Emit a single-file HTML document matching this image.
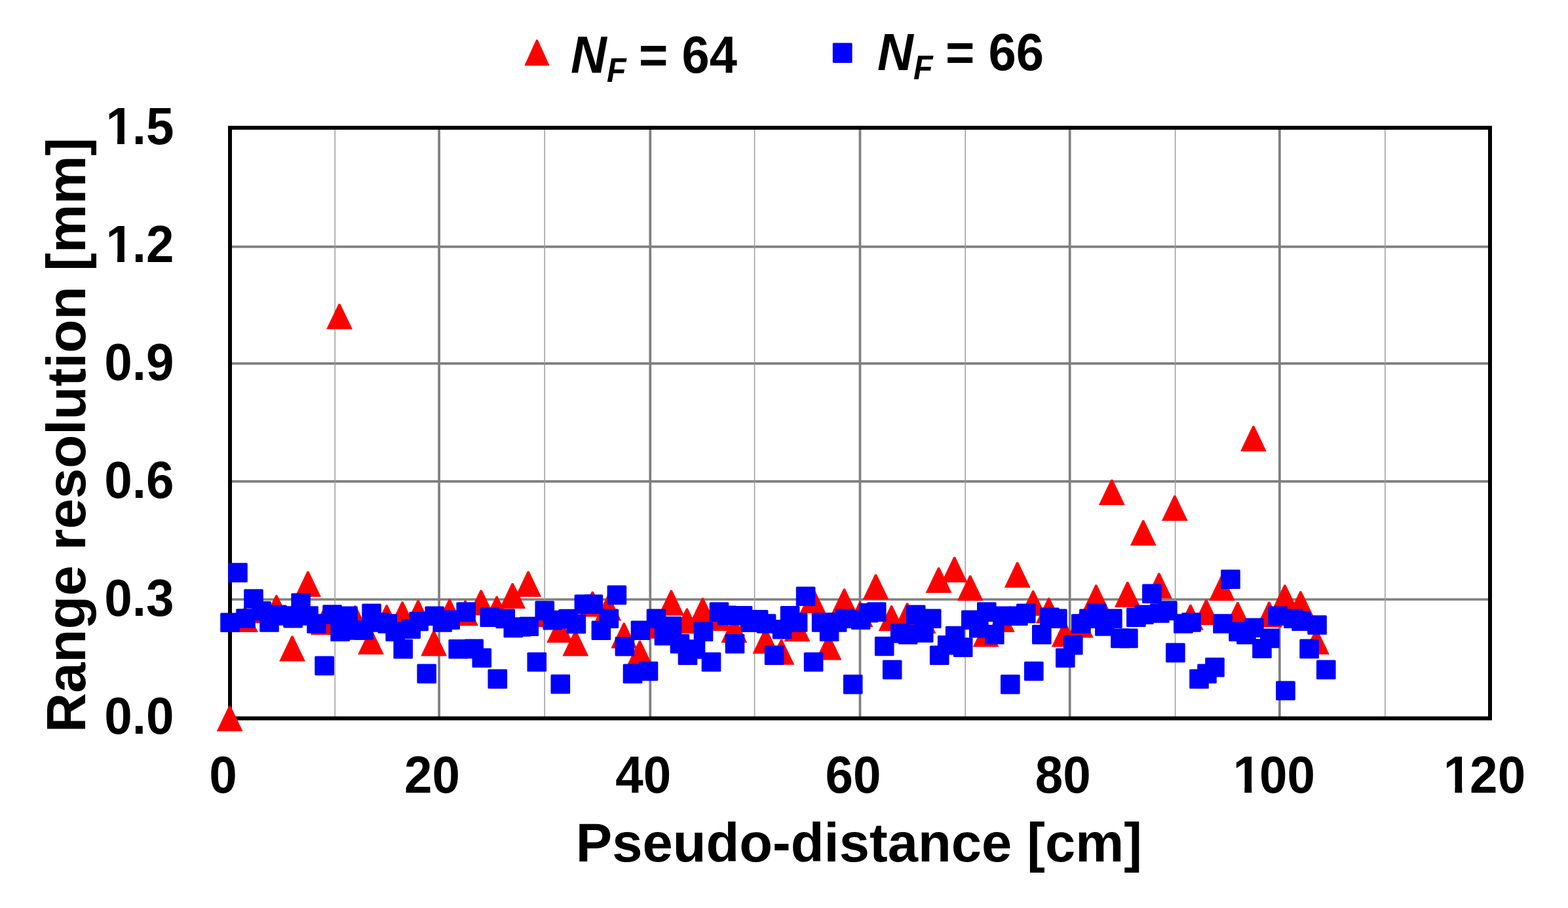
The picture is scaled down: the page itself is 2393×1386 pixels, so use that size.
<!DOCTYPE html>
<html lang="en">
<head>
<meta charset="utf-8">
<title>Range resolution vs pseudo-distance</title>
<style>
html,body{margin:0;padding:0;background:#fff;}
body{width:2393px;height:1386px;overflow:hidden;}
svg{display:block;}
text{font-family:"Liberation Sans",sans-serif;font-weight:bold;fill:#000;}
.tk{font-size:80.5px;}
.ax{font-size:84px;}
.lg{font-size:80px;}
.it{font-style:italic;}
</style>
</head>
<body>
<svg width="2393" height="1386" viewBox="0 0 2393 1386">
<rect x="0" y="0" width="2393" height="1386" fill="#ffffff"/>
<g id="grid">
<line x1="670.1" y1="198" x2="670.1" y2="1094" stroke="#7f7f7f" stroke-width="3.7"/>
<line x1="992.3" y1="198" x2="992.3" y2="1094" stroke="#7f7f7f" stroke-width="3.7"/>
<line x1="1312.5" y1="198" x2="1312.5" y2="1094" stroke="#7f7f7f" stroke-width="3.7"/>
<line x1="1632.7" y1="198" x2="1632.7" y2="1094" stroke="#7f7f7f" stroke-width="3.7"/>
<line x1="1952.9" y1="198" x2="1952.9" y2="1094" stroke="#7f7f7f" stroke-width="3.7"/>
<line x1="354" y1="376.6" x2="2271" y2="376.6" stroke="#7f7f7f" stroke-width="3.7"/>
<line x1="354" y1="554.9" x2="2271" y2="554.9" stroke="#7f7f7f" stroke-width="3.7"/>
<line x1="354" y1="734.9" x2="2271" y2="734.9" stroke="#7f7f7f" stroke-width="3.7"/>
<line x1="354" y1="915" x2="2271" y2="915" stroke="#7f7f7f" stroke-width="3.7"/>
<line x1="511.2" y1="198" x2="511.2" y2="1094" stroke="#9c9c9c" stroke-width="1.5"/>
<line x1="831.2" y1="198" x2="831.2" y2="1094" stroke="#9c9c9c" stroke-width="1.5"/>
<line x1="1151.6" y1="198" x2="1151.6" y2="1094" stroke="#9c9c9c" stroke-width="1.5"/>
<line x1="1473.2" y1="198" x2="1473.2" y2="1094" stroke="#9c9c9c" stroke-width="1.5"/>
<line x1="1793.6" y1="198" x2="1793.6" y2="1094" stroke="#9c9c9c" stroke-width="1.5"/>
<line x1="2113.9" y1="198" x2="2113.9" y2="1094" stroke="#9c9c9c" stroke-width="1.5"/>
</g>
<rect id="frame" x="351" y="195" width="1923" height="901.5" fill="none" stroke="#000" stroke-width="6"/>
<g id="series-nf64" fill="#ff0000">
<polygon points="330.7,1116.3 349.3,1077.4 351.9,1077.4 370.5,1116.3"/>
<polygon points="354,965 372.6,926.1 375.2,926.1 393.8,965"/>
<polygon points="378,951.2 396.6,912.3 399.2,912.3 417.8,951.2"/>
<polygon points="402,947.1 420.6,908.2 423.2,908.2 441.8,947.1"/>
<polygon points="426.1,1009.4 444.7,970.5 447.3,970.5 465.9,1009.4"/>
<polygon points="450.1,911 468.7,872.1 471.3,872.1 489.9,911"/>
<polygon points="474.1,968.9 492.7,930 495.3,930 513.9,968.9"/>
<polygon points="498.1,502.6 516.7,463.7 519.3,463.7 537.9,502.6"/>
<polygon points="522.1,963.1 540.7,924.2 543.3,924.2 561.9,963.1"/>
<polygon points="546.1,999.1 564.7,960.2 567.3,960.2 585.9,999.1"/>
<polygon points="570.2,962.1 588.8,923.2 591.4,923.2 610,962.1"/>
<polygon points="594.2,957.2 612.8,918.3 615.4,918.3 634,957.2"/>
<polygon points="618.2,955 636.8,916.1 639.4,916.1 658,955"/>
<polygon points="642.2,1001.4 660.8,962.5 663.4,962.5 682,1001.4"/>
<polygon points="666.2,953.3 684.8,914.4 687.4,914.4 706,953.3"/>
<polygon points="690.2,955.3 708.8,916.4 711.4,916.4 730,955.3"/>
<polygon points="714.3,939.3 732.9,900.4 735.5,900.4 754.1,939.3"/>
<polygon points="738.3,949 756.9,910.1 759.5,910.1 778.1,949"/>
<polygon points="762.3,929 780.9,890.1 783.5,890.1 802.1,929"/>
<polygon points="786.3,911 804.9,872.1 807.5,872.1 826.1,911"/>
<polygon points="810.3,957.2 828.9,918.3 831.5,918.3 850.1,957.2"/>
<polygon points="834.3,981 852.9,942.1 855.5,942.1 874.1,981"/>
<polygon points="858.4,1001.4 877,962.5 879.6,962.5 898.2,1001.4"/>
<polygon points="884.4,941.6 903,902.7 905.6,902.7 924.2,941.6"/>
<polygon points="908.4,947.5 927,908.6 929.6,908.6 948.2,947.5"/>
<polygon points="932.4,989.4 951,950.5 953.6,950.5 972.2,989.4"/>
<polygon points="956.5,1016.6 975.1,977.7 977.7,977.7 996.3,1016.6"/>
<polygon points="980.5,974.8 999.1,935.9 1001.7,935.9 1020.3,974.8"/>
<polygon points="1004.5,939.7 1023.1,900.8 1025.7,900.8 1044.3,939.7"/>
<polygon points="1028.5,967.3 1047.1,928.4 1049.7,928.4 1068.3,967.3"/>
<polygon points="1052.5,951.4 1071.1,912.5 1073.7,912.5 1092.3,951.4"/>
<polygon points="1076.5,963.1 1095.1,924.2 1097.7,924.2 1116.3,963.1"/>
<polygon points="1100.5,981 1119.1,942.1 1121.7,942.1 1140.3,981"/>
<polygon points="1124.6,964.8 1143.2,925.9 1145.8,925.9 1164.4,964.8"/>
<polygon points="1148.6,997.7 1167.2,958.8 1169.8,958.8 1188.4,997.7"/>
<polygon points="1172.6,1014.8 1191.2,975.9 1193.8,975.9 1212.4,1014.8"/>
<polygon points="1196.6,979.2 1215.2,940.3 1217.8,940.3 1236.4,979.2"/>
<polygon points="1220.6,936 1239.2,897.1 1241.8,897.1 1260.4,936"/>
<polygon points="1244.6,1007.5 1263.2,968.6 1265.8,968.6 1284.4,1007.5"/>
<polygon points="1268.6,937.3 1287.2,898.4 1289.8,898.4 1308.4,937.3"/>
<polygon points="1292.7,957.2 1311.3,918.3 1313.9,918.3 1332.5,957.2"/>
<polygon points="1316.7,915.3 1335.3,876.4 1337.9,876.4 1356.5,915.3"/>
<polygon points="1340.7,963.2 1359.3,924.3 1361.9,924.3 1380.5,963.2"/>
<polygon points="1364.7,959.2 1383.3,920.3 1385.9,920.3 1404.5,959.2"/>
<polygon points="1388.7,966.9 1407.3,928 1409.9,928 1428.5,966.9"/>
<polygon points="1412.7,905 1431.3,866.1 1433.9,866.1 1452.5,905"/>
<polygon points="1436.7,889 1455.3,850.1 1457.9,850.1 1476.5,889"/>
<polygon points="1460.8,917.1 1479.4,878.2 1482,878.2 1500.6,917.1"/>
<polygon points="1484.8,987.4 1503.4,948.5 1506,948.5 1524.6,987.4"/>
<polygon points="1508.8,965 1527.4,926.1 1530,926.1 1548.6,965"/>
<polygon points="1532.8,897 1551.4,858.1 1554,858.1 1572.6,897"/>
<polygon points="1556.8,940.1 1575.4,901.2 1578,901.2 1596.6,940.1"/>
<polygon points="1580.8,951.4 1599.4,912.5 1602,912.5 1620.6,951.4"/>
<polygon points="1604.8,987.4 1623.4,948.5 1626,948.5 1644.6,987.4"/>
<polygon points="1628.9,973.4 1647.5,934.5 1650.1,934.5 1668.7,973.4"/>
<polygon points="1652.9,931.5 1671.5,892.6 1674.1,892.6 1692.7,931.5"/>
<polygon points="1676.9,770.9 1695.5,732 1698.1,732 1716.7,770.9"/>
<polygon points="1700.9,927 1719.5,888.1 1722.1,888.1 1740.7,927"/>
<polygon points="1724.9,832.8 1743.5,793.9 1746.1,793.9 1764.7,832.8"/>
<polygon points="1748.9,913.4 1767.5,874.5 1770.1,874.5 1788.7,913.4"/>
<polygon points="1772.9,795.1 1791.5,756.2 1794.1,756.2 1812.7,795.1"/>
<polygon points="1797,961.7 1815.6,922.8 1818.2,922.8 1836.8,961.7"/>
<polygon points="1821,953.9 1839.6,915 1842.2,915 1860.8,953.9"/>
<polygon points="1845,916.9 1863.6,878 1866.2,878 1884.8,916.9"/>
<polygon points="1869,957.8 1887.6,918.9 1890.2,918.9 1908.8,957.8"/>
<polygon points="1893,689 1911.6,650.1 1914.2,650.1 1932.8,689"/>
<polygon points="1917,957.4 1935.6,918.5 1938.2,918.5 1956.8,957.4"/>
<polygon points="1941,931.5 1959.6,892.6 1962.2,892.6 1980.8,931.5"/>
<polygon points="1965,941.2 1983.7,902.3 1986.2,902.3 2004.9,941.2"/>
<polygon points="1989.1,999.1 2007.7,960.2 2010.3,960.2 2028.9,999.1"/>
</g>
<g id="series-nf66" fill="#0000ff">
<rect x="336.2" y="935.5" width="29.6" height="29.6" rx="1.5"/>
<rect x="348.2" y="859.3" width="29.6" height="29.6" rx="1.5"/>
<rect x="360.2" y="929.2" width="29.6" height="29.6" rx="1.5"/>
<rect x="372.2" y="899.2" width="29.6" height="29.6" rx="1.5"/>
<rect x="384.2" y="917.7" width="29.6" height="29.6" rx="1.5"/>
<rect x="396.2" y="935.2" width="29.6" height="29.6" rx="1.5"/>
<rect x="408.2" y="923.6" width="29.6" height="29.6" rx="1.5"/>
<rect x="420.3" y="925.2" width="29.6" height="29.6" rx="1.5"/>
<rect x="432.3" y="929" width="29.6" height="29.6" rx="1.5"/>
<rect x="444.3" y="905.5" width="29.6" height="29.6" rx="1.5"/>
<rect x="456.3" y="925.2" width="29.6" height="29.6" rx="1.5"/>
<rect x="468.3" y="937.2" width="29.6" height="29.6" rx="1.5"/>
<rect x="480.3" y="1001.5" width="29.6" height="29.6" rx="1.5"/>
<rect x="492.3" y="923.2" width="29.6" height="29.6" rx="1.5"/>
<rect x="504.3" y="949.5" width="29.6" height="29.6" rx="1.5"/>
<rect x="516.3" y="925.5" width="29.6" height="29.6" rx="1.5"/>
<rect x="528.3" y="947.2" width="29.6" height="29.6" rx="1.5"/>
<rect x="540.3" y="947.2" width="29.6" height="29.6" rx="1.5"/>
<rect x="552.3" y="921.6" width="29.6" height="29.6" rx="1.5"/>
<rect x="564.4" y="935.2" width="29.6" height="29.6" rx="1.5"/>
<rect x="576.4" y="937.2" width="29.6" height="29.6" rx="1.5"/>
<rect x="588.4" y="949.5" width="29.6" height="29.6" rx="1.5"/>
<rect x="600.4" y="975.8" width="29.6" height="29.6" rx="1.5"/>
<rect x="612.4" y="945.4" width="29.6" height="29.6" rx="1.5"/>
<rect x="624.4" y="933.7" width="29.6" height="29.6" rx="1.5"/>
<rect x="636.4" y="1013.6" width="29.6" height="29.6" rx="1.5"/>
<rect x="648.4" y="925.5" width="29.6" height="29.6" rx="1.5"/>
<rect x="660.4" y="935.2" width="29.6" height="29.6" rx="1.5"/>
<rect x="672.4" y="931.4" width="29.6" height="29.6" rx="1.5"/>
<rect x="684.4" y="976" width="29.6" height="29.6" rx="1.5"/>
<rect x="696.4" y="919.3" width="29.6" height="29.6" rx="1.5"/>
<rect x="708.4" y="975.6" width="29.6" height="29.6" rx="1.5"/>
<rect x="720.5" y="989.4" width="29.6" height="29.6" rx="1.5"/>
<rect x="732.5" y="927.5" width="29.6" height="29.6" rx="1.5"/>
<rect x="744.5" y="1021.6" width="29.6" height="29.6" rx="1.5"/>
<rect x="756.5" y="929.6" width="29.6" height="29.6" rx="1.5"/>
<rect x="768.5" y="943.6" width="29.6" height="29.6" rx="1.5"/>
<rect x="780.5" y="942.2" width="29.6" height="29.6" rx="1.5"/>
<rect x="792.5" y="941.5" width="29.6" height="29.6" rx="1.5"/>
<rect x="804.5" y="995.7" width="29.6" height="29.6" rx="1.5"/>
<rect x="816.5" y="917.3" width="29.6" height="29.6" rx="1.5"/>
<rect x="828.5" y="931.8" width="29.6" height="29.6" rx="1.5"/>
<rect x="840.5" y="1029.4" width="29.6" height="29.6" rx="1.5"/>
<rect x="852.5" y="929.8" width="29.6" height="29.6" rx="1.5"/>
<rect x="864.6" y="937.6" width="29.6" height="29.6" rx="1.5"/>
<rect x="876.6" y="907.4" width="29.6" height="29.6" rx="1.5"/>
<rect x="890.6" y="907.4" width="29.6" height="29.6" rx="1.5"/>
<rect x="902.6" y="947.5" width="29.6" height="29.6" rx="1.5"/>
<rect x="914.6" y="929.4" width="29.6" height="29.6" rx="1.5"/>
<rect x="926.6" y="893.4" width="29.6" height="29.6" rx="1.5"/>
<rect x="938.6" y="971.9" width="29.6" height="29.6" rx="1.5"/>
<rect x="950.7" y="1013.6" width="29.6" height="29.6" rx="1.5"/>
<rect x="962.7" y="947.4" width="29.6" height="29.6" rx="1.5"/>
<rect x="974.7" y="1009.7" width="29.6" height="29.6" rx="1.5"/>
<rect x="986.7" y="929.4" width="29.6" height="29.6" rx="1.5"/>
<rect x="998.7" y="955.7" width="29.6" height="29.6" rx="1.5"/>
<rect x="1010.7" y="941.1" width="29.6" height="29.6" rx="1.5"/>
<rect x="1022.7" y="968" width="29.6" height="29.6" rx="1.5"/>
<rect x="1034.7" y="985.5" width="29.6" height="29.6" rx="1.5"/>
<rect x="1046.7" y="976.2" width="29.6" height="29.6" rx="1.5"/>
<rect x="1058.7" y="949.3" width="29.6" height="29.6" rx="1.5"/>
<rect x="1070.7" y="995.7" width="29.6" height="29.6" rx="1.5"/>
<rect x="1082.7" y="919.3" width="29.6" height="29.6" rx="1.5"/>
<rect x="1094.7" y="924.6" width="29.6" height="29.6" rx="1.5"/>
<rect x="1106.7" y="967.8" width="29.6" height="29.6" rx="1.5"/>
<rect x="1118.8" y="924.9" width="29.6" height="29.6" rx="1.5"/>
<rect x="1130.8" y="935.2" width="29.6" height="29.6" rx="1.5"/>
<rect x="1142.8" y="931" width="29.6" height="29.6" rx="1.5"/>
<rect x="1154.8" y="937.2" width="29.6" height="29.6" rx="1.5"/>
<rect x="1166.8" y="985.5" width="29.6" height="29.6" rx="1.5"/>
<rect x="1178.8" y="946" width="29.6" height="29.6" rx="1.5"/>
<rect x="1190.8" y="924.9" width="29.6" height="29.6" rx="1.5"/>
<rect x="1202.8" y="935.2" width="29.6" height="29.6" rx="1.5"/>
<rect x="1214.8" y="895.5" width="29.6" height="29.6" rx="1.5"/>
<rect x="1226.8" y="995.7" width="29.6" height="29.6" rx="1.5"/>
<rect x="1238.8" y="935.2" width="29.6" height="29.6" rx="1.5"/>
<rect x="1250.8" y="949.5" width="29.6" height="29.6" rx="1.5"/>
<rect x="1262.8" y="935.2" width="29.6" height="29.6" rx="1.5"/>
<rect x="1274.8" y="929.4" width="29.6" height="29.6" rx="1.5"/>
<rect x="1286.9" y="1029.8" width="29.6" height="29.6" rx="1.5"/>
<rect x="1298.9" y="931.4" width="29.6" height="29.6" rx="1.5"/>
<rect x="1310.9" y="920.7" width="29.6" height="29.6" rx="1.5"/>
<rect x="1322.9" y="919.3" width="29.6" height="29.6" rx="1.5"/>
<rect x="1334.9" y="971.7" width="29.6" height="29.6" rx="1.5"/>
<rect x="1346.9" y="1007.5" width="29.6" height="29.6" rx="1.5"/>
<rect x="1358.9" y="952" width="29.6" height="29.6" rx="1.5"/>
<rect x="1370.9" y="953.8" width="29.6" height="29.6" rx="1.5"/>
<rect x="1382.9" y="923.6" width="29.6" height="29.6" rx="1.5"/>
<rect x="1394.9" y="951.2" width="29.6" height="29.6" rx="1.5"/>
<rect x="1406.9" y="929.4" width="29.6" height="29.6" rx="1.5"/>
<rect x="1418.9" y="985.5" width="29.6" height="29.6" rx="1.5"/>
<rect x="1430.9" y="969.9" width="29.6" height="29.6" rx="1.5"/>
<rect x="1442.9" y="955.7" width="29.6" height="29.6" rx="1.5"/>
<rect x="1454.9" y="973.3" width="29.6" height="29.6" rx="1.5"/>
<rect x="1467" y="931.4" width="29.6" height="29.6" rx="1.5"/>
<rect x="1479" y="944" width="29.6" height="29.6" rx="1.5"/>
<rect x="1491" y="919.3" width="29.6" height="29.6" rx="1.5"/>
<rect x="1503" y="953.8" width="29.6" height="29.6" rx="1.5"/>
<rect x="1515" y="925.5" width="29.6" height="29.6" rx="1.5"/>
<rect x="1527" y="1029.8" width="29.6" height="29.6" rx="1.5"/>
<rect x="1539" y="925.5" width="29.6" height="29.6" rx="1.5"/>
<rect x="1551" y="921.6" width="29.6" height="29.6" rx="1.5"/>
<rect x="1563" y="1009.7" width="29.6" height="29.6" rx="1.5"/>
<rect x="1575" y="953.8" width="29.6" height="29.6" rx="1.5"/>
<rect x="1587" y="927.5" width="29.6" height="29.6" rx="1.5"/>
<rect x="1599" y="929.4" width="29.6" height="29.6" rx="1.5"/>
<rect x="1611" y="989.4" width="29.6" height="29.6" rx="1.5"/>
<rect x="1623" y="969.9" width="29.6" height="29.6" rx="1.5"/>
<rect x="1635.1" y="937.2" width="29.6" height="29.6" rx="1.5"/>
<rect x="1647.1" y="929.4" width="29.6" height="29.6" rx="1.5"/>
<rect x="1659.1" y="921.6" width="29.6" height="29.6" rx="1.5"/>
<rect x="1671.1" y="941.1" width="29.6" height="29.6" rx="1.5"/>
<rect x="1683.1" y="929.4" width="29.6" height="29.6" rx="1.5"/>
<rect x="1695.1" y="959.6" width="29.6" height="29.6" rx="1.5"/>
<rect x="1707.1" y="959.6" width="29.6" height="29.6" rx="1.5"/>
<rect x="1719.1" y="927.5" width="29.6" height="29.6" rx="1.5"/>
<rect x="1731.1" y="923.4" width="29.6" height="29.6" rx="1.5"/>
<rect x="1743.1" y="891.4" width="29.6" height="29.6" rx="1.5"/>
<rect x="1755.1" y="921.2" width="29.6" height="29.6" rx="1.5"/>
<rect x="1767.1" y="917.3" width="29.6" height="29.6" rx="1.5"/>
<rect x="1779.1" y="981.6" width="29.6" height="29.6" rx="1.5"/>
<rect x="1791.1" y="937.2" width="29.6" height="29.6" rx="1.5"/>
<rect x="1803.2" y="935.2" width="29.6" height="29.6" rx="1.5"/>
<rect x="1815.2" y="1021.6" width="29.6" height="29.6" rx="1.5"/>
<rect x="1827.2" y="1013.6" width="29.6" height="29.6" rx="1.5"/>
<rect x="1839.2" y="1003.8" width="29.6" height="29.6" rx="1.5"/>
<rect x="1851.2" y="937.2" width="29.6" height="29.6" rx="1.5"/>
<rect x="1863.2" y="869.4" width="29.6" height="29.6" rx="1.5"/>
<rect x="1875.2" y="949.5" width="29.6" height="29.6" rx="1.5"/>
<rect x="1887.2" y="953.8" width="29.6" height="29.6" rx="1.5"/>
<rect x="1899.2" y="943.5" width="29.6" height="29.6" rx="1.5"/>
<rect x="1911.2" y="975.2" width="29.6" height="29.6" rx="1.5"/>
<rect x="1923.2" y="959.6" width="29.6" height="29.6" rx="1.5"/>
<rect x="1935.2" y="925.5" width="29.6" height="29.6" rx="1.5"/>
<rect x="1947.2" y="1039.5" width="29.6" height="29.6" rx="1.5"/>
<rect x="1959.2" y="929.4" width="29.6" height="29.6" rx="1.5"/>
<rect x="1971.2" y="933.3" width="29.6" height="29.6" rx="1.5"/>
<rect x="1983.3" y="975.6" width="29.6" height="29.6" rx="1.5"/>
<rect x="1995.3" y="939.2" width="29.6" height="29.6" rx="1.5"/>
<rect x="2009" y="1007.5" width="29.6" height="29.6" rx="1.5"/>
</g>
<defs><clipPath id="one"><path clip-rule="evenodd" d="M-20,-90H400V30H-20Z M-5,-10.6H20.92V3H-5Z M32.32,-10.6H46V3H32.32Z"/></clipPath></defs>
<g id="yticks">
<text class="tk" transform="translate(159.19,1119.6) scale(0.95,1)">0.0</text>
<text class="tk" transform="translate(159.19,939.6) scale(0.95,1)">0.3</text>
<text class="tk" transform="translate(159.19,759.6) scale(0.95,1)">0.6</text>
<text class="tk" transform="translate(159.19,579.6) scale(0.95,1)">0.9</text>
<text class="tk" clip-path="url(#one)" transform="translate(159.19,399.6) scale(0.95,1)" x="2.32 44.77">1.2</text>
<text class="tk" clip-path="url(#one)" transform="translate(159.19,219.6) scale(0.95,1)" x="2.32 44.77">1.5</text>
</g>
<g id="xticks">
<text class="tk" transform="translate(319.23,1210) scale(0.95,1)">0</text>
<text class="tk" transform="translate(617.07,1210) scale(0.95,1)">20</text>
<text class="tk" transform="translate(939.27,1210) scale(0.95,1)">40</text>
<text class="tk" transform="translate(1259.47,1210) scale(0.95,1)">60</text>
<text class="tk" transform="translate(1579.67,1210) scale(0.95,1)">80</text>
<text class="tk" clip-path="url(#one)" transform="translate(1879.5,1210) scale(0.95,1)" x="2.32 44.77">100</text>
<text class="tk" clip-path="url(#one)" transform="translate(2200.6,1210) scale(0.95,1)" x="2.32 44.77">120</text>
</g>
<text id="xtitle" class="ax" transform="translate(1310.8,1315.4) scale(0.99,1)" text-anchor="middle">Pseudo-distance [cm]</text>
<text id="ytitle" class="ax" transform="translate(130.3,664) rotate(-90) scale(0.993,1)" text-anchor="middle">Range resolution [mm]</text>
<g id="legend">
<polygon fill="#ff0000" points="800.3,100.3 818.3,60.6 820.7,60.6 838.7,100.3"/>
<text class="lg" transform="translate(871,111.3) scale(0.95,1)"><tspan class="it">N</tspan><tspan class="it" font-size="51" dy="13.8">F</tspan><tspan dy="-13.8" dx="-1.6"> = 64</tspan></text>
<rect fill="#0000ff" x="1270.8" y="65.6" width="29.8" height="30.4" rx="1.5"/>
<text class="lg" transform="translate(1339,106.6) scale(0.95,1)"><tspan class="it">N</tspan><tspan class="it" font-size="51" dy="14.6">F</tspan><tspan dy="-14.6" dx="-1.6"> = 66</tspan></text>
</g>
</svg>
</body>
</html>
